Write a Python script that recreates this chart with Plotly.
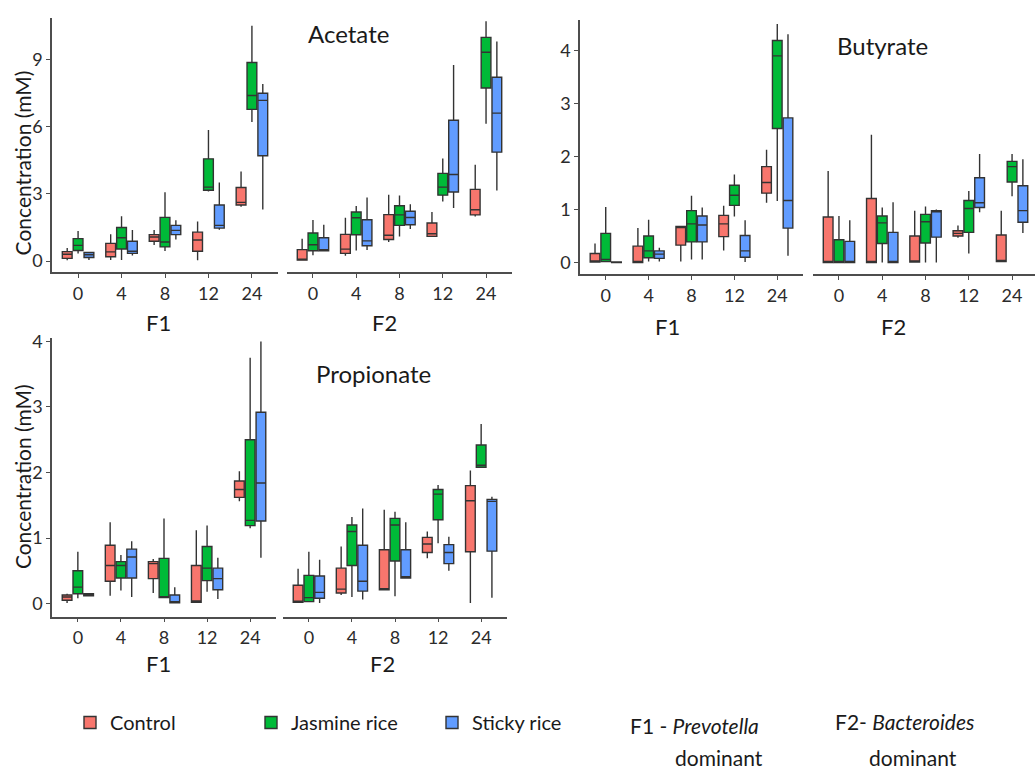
import plotly.graph_objects as go

W, H = 1035, 774
times = ["0", "4", "8", "12", "24"]
groups = ["Control", "Jasmine rice", "Sticky rice"]
colors = ["#F8766D", "#00BA38", "#619CFF"]

# ---- Acetate, F1 (rows: Control, Jasmine rice, Sticky rice; cols: 0,4,8,12,24 h)
acetate_F1_lo = [[0.03, 0.05, 0.72, 0.03, 2.42], [0.34, 0.05, 0.45, 3.10, 6.20], [0.05, 0.25, 0.96, 1.40, 2.30]]
acetate_F1_q1 = [[0.12, 0.19, 0.88, 0.44, 2.50], [0.47, 0.54, 0.63, 3.16, 6.77], [0.16, 0.34, 1.18, 1.47, 4.70]]
acetate_F1_med = [[0.30, 0.41, 1.07, 0.94, 2.62], [0.70, 1.04, 0.85, 3.30, 7.39], [0.28, 0.44, 1.37, 1.59, 7.17]]
acetate_F1_q3 = [[0.42, 0.79, 1.18, 1.29, 3.28], [1.00, 1.50, 1.95, 4.56, 8.86], [0.38, 0.88, 1.59, 2.50, 7.49]]
acetate_F1_hi = [[0.58, 1.20, 1.38, 1.76, 4.00], [1.34, 2.00, 3.07, 5.85, 10.50], [0.42, 1.38, 1.82, 3.50, 7.90]]
# ---- Acetate, F2
acetate_F2_lo = [[0.04, 0.24, 0.85, 1.10, 1.99], [0.26, 0.47, 1.10, 2.66, 6.13], [0.46, 0.49, 1.43, 2.37, 3.15]]
acetate_F2_q1 = [[0.04, 0.34, 0.96, 1.10, 2.06], [0.46, 1.17, 1.59, 2.94, 7.72], [0.46, 0.68, 1.62, 3.08, 4.86]]
acetate_F2_med = [[0.05, 0.53, 1.15, 1.22, 2.29], [0.73, 1.93, 2.06, 3.30, 9.32], [0.48, 0.90, 1.94, 3.86, 6.60]]
acetate_F2_q3 = [[0.51, 1.19, 2.07, 1.70, 3.20], [1.25, 2.19, 2.47, 3.91, 9.98], [1.04, 1.84, 2.22, 6.28, 8.20]]
acetate_F2_hi = [[1.00, 1.93, 2.96, 2.19, 4.30], [1.83, 2.46, 2.93, 4.58, 10.70], [1.62, 2.84, 2.53, 8.75, 9.80]]
# ---- Butyrate, F1
butyrate_F1_lo = [[0.01, 0.00, 0.02, 0.23, 1.13], [0.02, 0.02, 0.06, 0.87, 1.16], [0.00, 0.02, 0.06, 0.01, 0.13]]
butyrate_F1_q1 = [[0.01, 0.00, 0.33, 0.49, 1.31], [0.02, 0.09, 0.39, 1.08, 2.53], [0.00, 0.08, 0.39, 0.10, 0.65]]
butyrate_F1_med = [[0.03, 0.01, 0.68, 0.73, 1.51], [0.06, 0.22, 0.73, 1.27, 3.90], [0.00, 0.16, 0.71, 0.22, 1.17]]
butyrate_F1_q3 = [[0.17, 0.31, 0.68, 0.89, 1.81], [0.55, 0.50, 0.98, 1.46, 4.19], [0.01, 0.22, 0.88, 0.51, 2.73]]
butyrate_F1_hi = [[0.36, 0.65, 0.68, 1.07, 2.13], [1.05, 0.81, 1.26, 1.66, 4.50], [0.02, 0.28, 1.04, 0.80, 4.31]]
# ---- Butyrate, F2
butyrate_F2_lo = [[0.00, 0.00, 0.01, 0.47, 0.02], [0.00, 0.00, 0.00, 0.17, 1.25], [0.00, 0.00, 0.00, 0.95, 0.56]]
butyrate_F2_q1 = [[0.00, 0.00, 0.01, 0.50, 0.02], [0.00, 0.36, 0.37, 0.57, 1.52], [0.00, 0.00, 0.48, 1.04, 0.76]]
butyrate_F2_med = [[0.00, 0.00, 0.03, 0.55, 0.02], [0.00, 0.75, 0.77, 1.02, 1.81], [0.00, 0.00, 0.96, 1.13, 0.98]]
butyrate_F2_q3 = [[0.86, 1.21, 0.50, 0.60, 0.52], [0.43, 0.88, 0.91, 1.17, 1.91], [0.40, 0.57, 0.98, 1.60, 1.45]]
butyrate_F2_hi = [[1.73, 2.41, 0.98, 0.70, 0.98], [0.88, 1.04, 1.06, 1.35, 2.05], [0.80, 1.14, 1.00, 2.05, 1.95]]
# ---- Propionate, F1
propionate_F1_lo = [[0.01, 0.12, 0.16, 0.02, 1.56], [0.08, 0.20, 0.08, 0.18, 1.15], [0.11, 0.10, 0.01, 0.07, 0.70]]
propionate_F1_q1 = [[0.05, 0.34, 0.38, 0.02, 1.62], [0.15, 0.39, 0.09, 0.35, 1.19], [0.12, 0.39, 0.01, 0.21, 1.26]]
propionate_F1_med = [[0.10, 0.58, 0.61, 0.04, 1.74], [0.25, 0.58, 0.10, 0.54, 1.27], [0.14, 0.71, 0.03, 0.38, 1.84]]
propionate_F1_q3 = [[0.13, 0.89, 0.64, 0.58, 1.87], [0.50, 0.64, 0.69, 0.87, 2.50], [0.15, 0.83, 0.13, 0.54, 2.92]]
propionate_F1_hi = [[0.15, 1.24, 0.68, 1.12, 2.02], [0.79, 0.74, 1.30, 1.19, 3.75], [0.16, 0.95, 0.25, 0.70, 4.00]]
# ---- Propionate, F2
propionate_F2_lo = [[0.02, 0.13, 0.21, 0.69, 0.01], [0.02, 0.10, 0.11, 0.92, 2.08], [0.01, 0.06, 0.39, 0.50, 0.09]]
propionate_F2_q1 = [[0.02, 0.16, 0.21, 0.78, 0.79], [0.03, 0.58, 0.65, 1.28, 2.08], [0.08, 0.19, 0.39, 0.61, 0.80]]
propionate_F2_med = [[0.02, 0.22, 0.22, 0.91, 1.57], [0.09, 1.10, 1.20, 1.67, 2.11], [0.17, 0.34, 0.41, 0.78, 1.56]]
propionate_F2_q3 = [[0.28, 0.54, 0.82, 1.01, 1.80], [0.43, 1.20, 1.30, 1.74, 2.42], [0.42, 0.89, 0.82, 0.90, 1.59]]
propionate_F2_hi = [[0.53, 0.87, 1.43, 1.10, 2.03], [0.79, 1.32, 1.40, 1.81, 2.74], [0.67, 1.45, 1.24, 1.02, 1.63]]

FONT = "Lato"
TXT = "#1a1a1a"
AX = "#4d4d4d"

def px_x(p):
    return p / W

def px_y(p):
    return 1 - p / H

# panel: (stats, axis suffix, x pixel span, y pixel span, y range, y ticks, F1?)
panels = [
    ((acetate_F1_lo, acetate_F1_q1, acetate_F1_med, acetate_F1_q3, acetate_F1_hi), "", (52, 278), (10, 267), [-0.5, 10.85], [0, 3, 6, 9], True),
    ((acetate_F2_lo, acetate_F2_q1, acetate_F2_med, acetate_F2_q3, acetate_F2_hi), "2", (287, 512), (10, 267), [-0.5, 10.85], [0, 3, 6, 9], False),
    ((butyrate_F1_lo, butyrate_F1_q1, butyrate_F1_med, butyrate_F1_q3, butyrate_F1_hi), "3", (580, 803), (12, 269), [-0.22, 4.58], [0, 1, 2, 3, 4], True),
    ((butyrate_F2_lo, butyrate_F2_q1, butyrate_F2_med, butyrate_F2_q3, butyrate_F2_hi), "4", (813, 1035), (12, 269), [-0.22, 4.58], [0, 1, 2, 3, 4], False),
    ((propionate_F1_lo, propionate_F1_q1, propionate_F1_med, propionate_F1_q3, propionate_F1_hi), "5", (52, 276), (333, 615), [-0.2, 4.06], [0, 1, 2, 3, 4], True),
    ((propionate_F2_lo, propionate_F2_q1, propionate_F2_med, propionate_F2_q3, propionate_F2_hi), "6", (283, 507), (333, 615), [-0.2, 4.06], [0, 1, 2, 3, 4], False),
]

fig = go.Figure()
layout = {}
for pi, (stats, sfx, xs, ys, yr, yt, isF1) in enumerate(panels):
    lo, q1, med, q3, hi = stats
    for g in range(3):
        fig.add_trace(go.Box(
            x=times, lowerfence=lo[g], q1=q1[g], median=med[g], q3=q3[g], upperfence=hi[g],
            name=groups[g], legendgroup=groups[g], showlegend=(pi == 0),
            fillcolor=colors[g], line=dict(color="#333333", width=1.4),
            whiskerwidth=0, boxpoints=False, hoverinfo="skip",
            xaxis="x" + sfx, yaxis="y" + sfx, offsetgroup=str(g),
        ))
    xr = [-0.6, 4.6] if xs[1] < 1030 else [-0.6, 4.53]
    layout["xaxis" + sfx] = dict(
        domain=[px_x(xs[0]), px_x(xs[1])], anchor="y" + sfx, type="category",
        categoryorder="array", categoryarray=times, range=xr,
        showline=True, linecolor=AX, linewidth=1.5, ticks="outside", ticklen=4,
        tickcolor=AX, tickfont=dict(size=18, color="#2b2b2b", family=FONT),
        showgrid=False, zeroline=False, fixedrange=True,
    )
    layout["yaxis" + sfx] = dict(
        domain=[px_y(ys[1]), px_y(ys[0])], anchor="x" + sfx, range=yr,
        tickvals=yt, showline=isF1, linecolor=AX, linewidth=1.5,
        ticks="outside" if isF1 else "", ticklen=4, tickcolor=AX,
        showticklabels=isF1, tickfont=dict(size=18, color="#2b2b2b", family=FONT),
        showgrid=False, zeroline=False, fixedrange=True,
    )

ann = []
def add_text(x, y, text, size=22, angle=0, xanchor="center"):
    ann.append(dict(x=px_x(x), y=px_y(y), xref="paper", yref="paper", text=text,
                    showarrow=False, textangle=angle, xanchor=xanchor, yanchor="middle",
                    font=dict(size=size, color=TXT, family=FONT)))

add_text(348, 26, "Acetate", 24)
add_text(882, 38, "Butyrate", 24)
add_text(373, 369, "Propionate", 24)
for (x, y, t) in [(158, 318, "F1"), (384, 318, "F2"), (667, 322, "F1"), (893, 322, "F2"),
                  (158, 662, "F1"), (382, 662, "F2")]:
    add_text(x, y, t, 22)
add_text(22, 157, "Concentration (mM)", 21, -90)
add_text(22, 474, "Concentration (mM)", 21, -90)
add_text(628, 725, "F1 - <i>Prevotella</i>", 21, xanchor="left")
add_text(673, 757, "dominant", 21, xanchor="left")
add_text(833, 721, "F2- <i>Bacteroides</i>", 21, xanchor="left")
add_text(867, 757, "dominant", 21, xanchor="left")

fig.update_layout(
    width=W, height=H, margin=dict(l=0, r=0, t=0, b=0),
    paper_bgcolor="white", plot_bgcolor="white",
    boxmode="group", boxgap=0.25, boxgroupgap=0.1,
    font=dict(family=FONT, color=TXT),
    annotations=ann,
    legend=dict(orientation="h", x=px_x(70), y=px_y(722), xanchor="left", yanchor="middle",
                font=dict(size=20, family=FONT, color=TXT), entrywidth=136,
                bgcolor="rgba(0,0,0,0)"),
    **layout,
)
fig.write_html("out.html")
